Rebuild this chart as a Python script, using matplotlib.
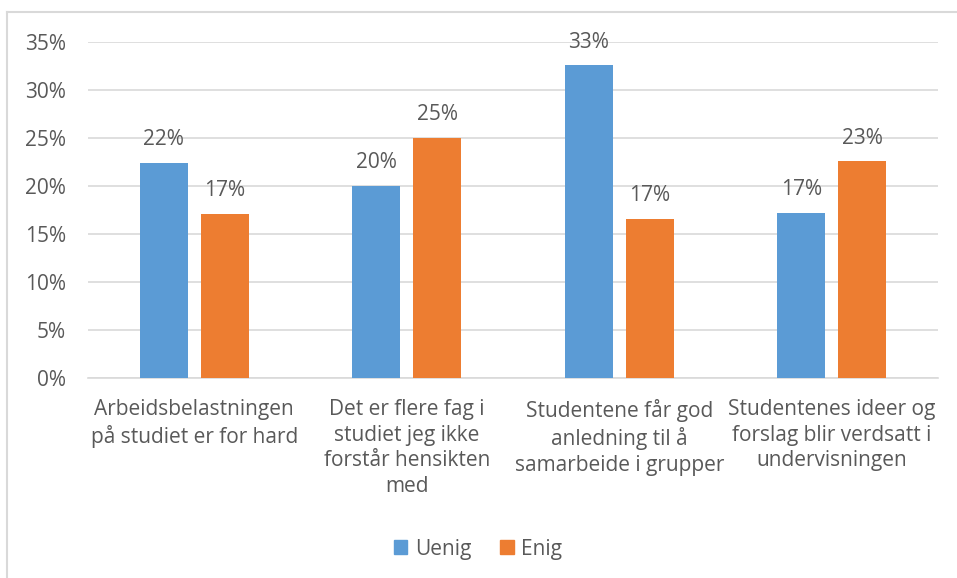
import matplotlib
matplotlib.use("AGG")
import matplotlib.pyplot as plt
from matplotlib.lines import Line2D
from matplotlib.patches import Patch
import numpy as np

# ── Data ────────────────────────────────────────────────────────────────────
categories = [
    "Arbeidsbelastningen\npå studiet er for hard",
    "Det er flere fag i\nstudiet jeg ikke\nforstår hensikten\nmed",
    "Studentene får god\nanledning til å\nsamarbeide i grupper",
    "Studentenes ideer og\nforslag blir verdsatt i\nundervisningen",
]
uenig = [22.4, 20.0, 32.6, 17.2]
enig = [17.1, 25.0, 16.6, 22.6]
series_names = ["Uenig", "Enig"]
yticks = [0, 5, 10, 15, 20, 25, 30, 35]

# ── Style ───────────────────────────────────────────────────────────────────
BLUE = "#5B9BD5"
ORANGE = "#ED7D31"
TEXT = "#595959"
GRID = "#D9D9D9"
FONT = ["Open Sans", "DejaVu Sans"]
FS = 15
plt.rcParams["font.family"] = FONT

W, H = 957, 578
fig = plt.figure(figsize=(W / 100, H / 100), dpi=100, facecolor="white")
ax = fig.add_axes([88 / W, (H - 378) / H, 850 / W, 336 / H])

x = np.arange(len(categories))
bw = 0.226
off = 0.144
b1 = ax.bar(x - off, uenig, width=bw, color=BLUE, zorder=3)
b2 = ax.bar(x + off, enig, width=bw, color=ORANGE, zorder=3)

for bars, vals in ((b1, uenig), (b2, enig)):
    for bar, v in zip(bars, vals):
        ax.annotate(f"{round(v)}%", (bar.get_x() + bar.get_width() / 2, v),
                    xytext=(0, 9), textcoords="offset points",
                    ha="center", va="bottom", fontsize=FS, color=TEXT)

ax.set_xlim(-0.5, len(categories) - 0.5)
ax.set_ylim(0, 35)
ax.set_yticks(yticks)
ax.set_yticklabels([f"{t}%" for t in yticks], fontsize=FS, color=TEXT)
ax.set_xticks(x)
ax.set_xticklabels(categories, fontsize=FS, color=TEXT, linespacing=1.3)
ax.tick_params(axis="both", length=0)
ax.tick_params(axis="y", pad=16)
ax.tick_params(axis="x", pad=15)

for s in ("top", "right", "left"):
    ax.spines[s].set_visible(False)
ax.spines["bottom"].set_color(GRID)
ax.spines["bottom"].set_linewidth(1.2)
ax.grid(axis="y", color=GRID, linewidth=1.2)
ax.set_axisbelow(True)

handles = [Patch(color=BLUE), Patch(color=ORANGE)]
fig.legend(handles, series_names, loc="center", bbox_to_anchor=(478 / W, (H - 549) / H),
           ncol=2, frameon=False, fontsize=FS, handlelength=0.65, handleheight=0.65,
           handletextpad=0.35, columnspacing=1.4, labelcolor=TEXT)

# chart frame (top and left edges visible)
fig.add_artist(Line2D([7 / W, 1], [1 - 12 / H, 1 - 12 / H], color=GRID, lw=1.5))
fig.add_artist(Line2D([7 / W, 7 / W], [0, 1 - 12 / H], color=GRID, lw=1.5))

fig.savefig("out.png", dpi=100, facecolor="white")
